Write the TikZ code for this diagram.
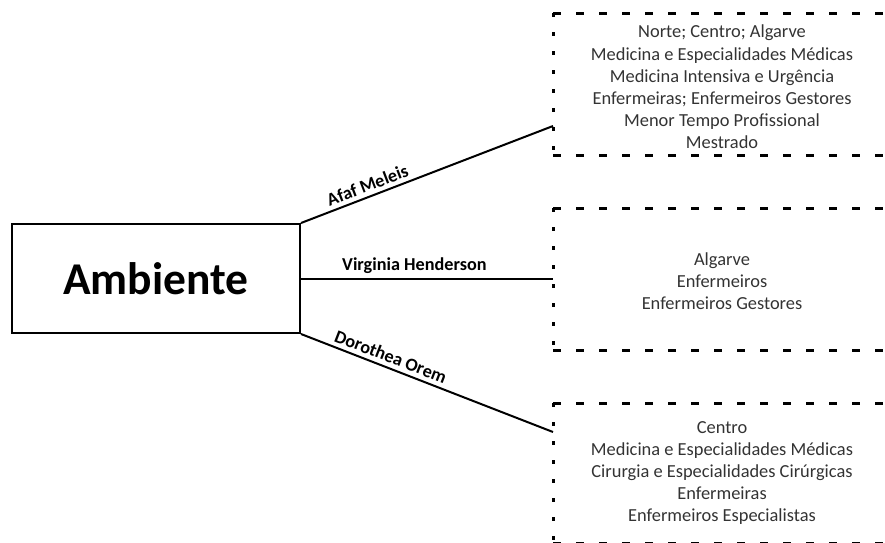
\documentclass[tikz,border=0pt]{standalone}
\usepackage{fontspec}
\setmainfont{Carlito}
\usetikzlibrary{positioning}

\tikzset{
  tema/.style={draw, line width=2pt, minimum width=288pt, minimum height=109pt,
    inner sep=0pt, font=\fontsize{45.5}{48}\selectfont\bfseries},
  grupo/.style={minimum width=333pt, minimum height=142pt, inner sep=0pt,
    align=center, text=black!80, font=\fontsize{18.4}{22.2}\selectfont},
  tracejado/.style={line width=3pt, dash pattern=on 8pt off 15pt},
  pontilhado/.style={line width=3pt, dash pattern=on 4pt off 15pt},
  ramo/.style={line width=2pt},
  teorica/.style={font=\fontsize{18.2}{20}\selectfont\bfseries, sloped, above,
    inner sep=4pt}
}

\begin{document}
\begin{tikzpicture}[x=1pt, y=-1pt]
  \useasboundingbox (0,0) rectangle (885,542);
  \node[tema] (amb) at (156,278.5) {Ambiente};

  \node[grupo] (meleis) at (722,87) {Norte; Centro; Algarve\\
    Medicina e Especialidades Médicas\\ Medicina Intensiva e Urgência\\
    Enfermeiras; Enfermeiros Gestores\\ Menor Tempo Profissional\\ Mestrado};
  \node[grupo] (henderson) at (722,281) {Algarve\\ Enfermeiros\\
    Enfermeiros Gestores};
  \node[grupo] (orem) at (722,473) {Centro\\
    Medicina e Especialidades Médicas\\ Cirurgia e Especialidades Cirúrgicas\\
    Enfermeiras\\ Enfermeiros Especialistas};

  % contornos tracejados
  \foreach \g/\cima/\baixo in {meleis/13/155, henderson/208/350, orem/403/543}
  {
    \path[draw, tracejado] (553,\cima) -- (886,\cima);
    \path[draw, tracejado] (553,\baixo) -- (886,\baixo);
    \path[draw, pontilhado] (553,\cima) -- (553,\baixo);
    \path[draw, pontilhado, black!30] (886,\cima) -- (886,\baixo);
  }

  \coordinate (fimM) at (553,126);
  \coordinate (fimH) at (553,278.5);
  \coordinate (fimO) at (553,432);

  \path[draw, ramo] (amb.north east) -- node[teorica, pos=0.28] {Afaf Meleis} (fimM);
  \path[draw, ramo] (amb.east) -- node[teorica, pos=0.45] {Virginia Henderson} (fimH);
  \path[draw, ramo] (amb.south east) -- node[teorica, pos=0.34] {Dorothea Orem} (fimO);
\end{tikzpicture}
\end{document}
